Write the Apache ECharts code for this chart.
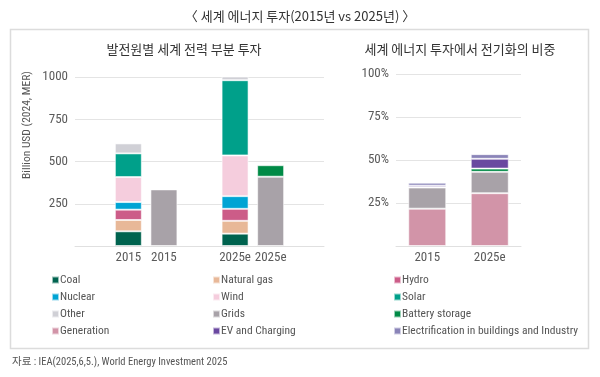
<!DOCTYPE html>
<html><head><meta charset="utf-8">
<script src="https://cdn.jsdelivr.net/npm/echarts@6/dist/echarts.min.js"></script>
<style>html,body{margin:0;padding:0;background:#fff}#c{width:600px;height:377px}</style>
</head><body><div id="c"></div>
<script>
// ---- data ----
const leftSlots = ['', '2015', '2015', '', '2025e', '2025e', ''];
const mixYears = ['2015', '2025e'];
const coal = [87, 73];
const naturalGas = [67, 76];
const hydro = [61, 71];
const nuclear = [45, 75];
const wind = [148, 241];
const solar = [140, 445];
const other = [59, 36];
const grids = [335, 410];
const battery = [0, 68];

const rightCats = ['2015', '2025e'];
const shGeneration = [21.7, 30.7];
const shGrids = [12.3, 12.4];
const shBattery = [0.1, 1.9];
const shEV = [1.0, 5.7];
const shElec = [1.7, 2.7];

const leftTicks = [250, 500, 750, 1000];
const rightTicks = [25, 50, 75, 100];

const colors = {
  'Coal': '#00634f', 'Natural gas': '#e8b898', 'Hydro': '#cc5c88',
  'Nuclear': '#00a4d4', 'Wind': '#f5cddd', 'Solar': '#00a08a',
  'Other': '#d0d0d6', 'Grids': '#a8a2a8', 'Battery storage': '#008a46',
  'Generation': '#d294a8', 'EV and Charging': '#6a48a0',
  'Electrification in buildings and Industry': '#8a84b8'
};

// mix bars go to slots 1 and 4, grid bars to slots 2 and 5
function mixSlots(arr) { const d = leftSlots.map(() => null); d[1] = arr[0]; d[4] = arr[1]; return d; }
function gridSlots(arr) { const d = leftSlots.map(() => null); d[2] = arr[0]; d[5] = arr[1]; return d; }

const FONT = '"Noto Sans CJK KR", "Noto Sans", sans-serif';
const NARROW = '"Roboto Condensed", "Noto Sans CJK KR", sans-serif';
const border = { borderColor: 'rgba(255,255,255,0.6)', borderWidth: 1 };
function leftSeries(name, data) {
  return { name, type: 'bar', stack: 'L', xAxisIndex: 0, yAxisIndex: 0, barWidth: 27, data,
    itemStyle: Object.assign({ color: colors[name] }, border) };
}
function rightSeries(name, data) {
  return { name, type: 'bar', stack: 'R', xAxisIndex: 1, yAxisIndex: 1, barWidth: 38, data,
    itemStyle: Object.assign({ color: colors[name] }, border) };
}

const legendBase = {
  orient: 'vertical', top: 274, itemWidth: 7, itemHeight: 7, itemGap: 5, padding: 0,
  icon: 'rect', selectedMode: false,
  textStyle: { fontSize: 11.5, color: '#555', fontFamily: NARROW, lineHeight: 12, padding: [0, 0, 0, -4] }
};

const axisLabelStyle = { color: '#5a5a5a', fontSize: 13, fontFamily: NARROW };

const option = {
  animation: false,
  textStyle: { fontFamily: FONT },
  title: [
    { text: '〈 세계 에너지 투자(2015년 vs 2025년) 〉', left: 'center', top: 5,
      textStyle: { fontSize: 13, fontWeight: 'normal', color: '#333', fontFamily: FONT } },
    { text: '발전원별 세계 전력 부분 투자', left: 179, textAlign: 'center', top: 38,
      textStyle: { fontSize: 13, fontWeight: 'normal', color: '#333', fontFamily: FONT } },
    { text: '세계 에너지 투자에서 전기화의 비중', left: 455, textAlign: 'center', top: 38,
      textStyle: { fontSize: 13, fontWeight: 'normal', color: '#333', fontFamily: FONT } }
  ],
  graphic: [
    { type: 'rect', shape: { x: 10.5, y: 29.5, width: 578, height: 319 },
      style: { fill: 'none', stroke: '#dcdcdc', lineWidth: 1.5 }, z: -1 },
    { type: 'text', left: 12, top: 357,
      style: { text: '자료 : IEA(2025,6,5.), World Energy Investment 2025', fontSize: 10.5, fill: '#555', fontFamily: NARROW } },
    { type: 'text', x: 27, y: 125, rotation: Math.PI / 2,
      style: { text: 'Billion USD (2024, MER)', fontSize: 11.5, fill: '#555', fontFamily: NARROW, align: 'center', verticalAlign: 'middle' } }
  ],
  legend: [
    Object.assign({}, legendBase, { left: 51, data: ['Coal', 'Nuclear', 'Other', 'Generation'] }),
    Object.assign({}, legendBase, { left: 212, data: ['Natural gas', 'Wind', 'Grids', 'EV and Charging'] }),
    Object.assign({}, legendBase, { left: 393, data: ['Hydro', 'Solar', 'Battery storage', 'Electrification in buildings and Industry'] })
  ],
  grid: [
    { left: 75, right: 276, top: 77, bottom: 131 },
    { left: 396, right: 79, top: 74, bottom: 131 }
  ],
  xAxis: [
    { type: 'category', gridIndex: 0, data: leftSlots,
      axisLine: { lineStyle: { color: '#e0e0e0' } }, axisTick: { show: false },
      axisLabel: Object.assign({ margin: 5, interval: 0 }, axisLabelStyle) },
    { type: 'category', gridIndex: 1, data: rightCats,
      axisLine: { lineStyle: { color: '#e0e0e0' } }, axisTick: { show: false },
      axisLabel: Object.assign({ margin: 5 }, axisLabelStyle) }
  ],
  yAxis: [
    { type: 'value', gridIndex: 0, min: 0, max: leftTicks[leftTicks.length - 1], interval: 250,
      axisLine: { show: false }, axisTick: { show: false },
      splitLine: { lineStyle: { color: '#e4e4e4' } },
      axisLabel: Object.assign({ margin: 7, formatter: v => leftTicks.includes(v) ? String(v) : '' }, axisLabelStyle) },
    { type: 'value', gridIndex: 1, min: 0, max: rightTicks[rightTicks.length - 1], interval: 25,
      axisLine: { show: false }, axisTick: { show: false },
      splitLine: { lineStyle: { color: '#e4e4e4' } },
      axisLabel: Object.assign({ margin: 7, formatter: v => rightTicks.includes(v) ? v + '%' : '' }, axisLabelStyle) }
  ],
  series: [
    leftSeries('Coal', mixSlots(coal)),
    leftSeries('Natural gas', mixSlots(naturalGas)),
    leftSeries('Hydro', mixSlots(hydro)),
    leftSeries('Nuclear', mixSlots(nuclear)),
    leftSeries('Wind', mixSlots(wind)),
    leftSeries('Solar', mixSlots(solar)),
    leftSeries('Other', mixSlots(other)),
    leftSeries('Grids', gridSlots(grids)),
    leftSeries('Battery storage', gridSlots(battery)),
    rightSeries('Generation', shGeneration),
    rightSeries('Grids', shGrids),
    rightSeries('Battery storage', shBattery),
    rightSeries('EV and Charging', shEV),
    rightSeries('Electrification in buildings and Industry', shElec)
  ]
};
const chart = echarts.init(document.getElementById('c'), null, { renderer: 'canvas' });
chart.setOption(option);
</script>
</body></html>
